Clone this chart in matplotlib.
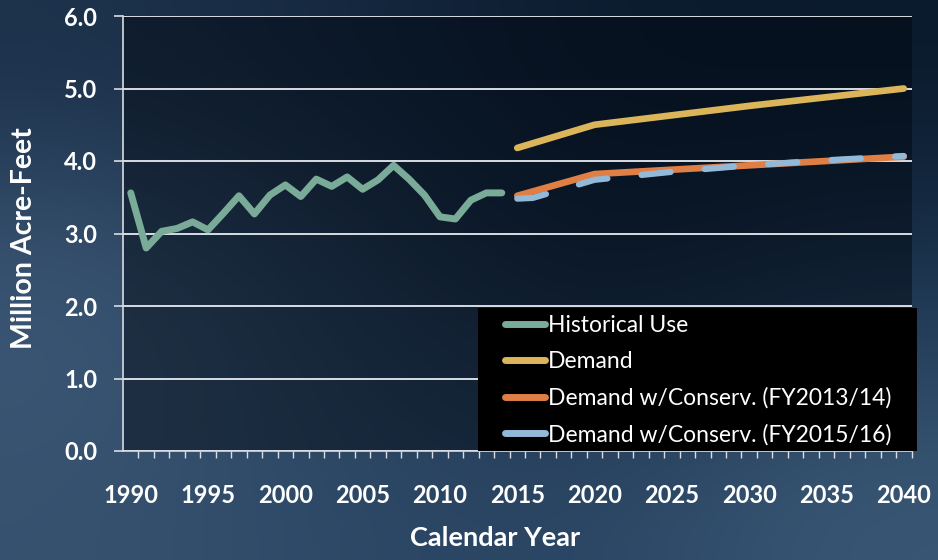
import numpy as np
import matplotlib
matplotlib.use("Agg")
import matplotlib.pyplot as plt
from matplotlib.ticker import MultipleLocator, FixedLocator, FormatStrFormatter
from matplotlib.colors import to_rgb
from matplotlib.patches import Rectangle
from matplotlib.lines import Line2D

plt.rcParams['font.family'] = ['Lato', 'DejaVu Sans']

# ---- data ----
hist_years = list(range(1990, 2015))
hist_use = [3.56, 2.80, 3.03, 3.07, 3.16, 3.05, 3.28, 3.52, 3.27, 3.53,
            3.67, 3.51, 3.75, 3.65, 3.78, 3.61, 3.74, 3.94, 3.75, 3.53,
            3.23, 3.20, 3.46, 3.56, 3.56]

demand_years = [2015, 2020, 2025, 2030, 2035, 2040]
demand = [4.18, 4.50, 4.63, 4.76, 4.88, 5.00]

cons1314_years = [2015, 2020, 2025, 2030, 2035, 2040]
cons1314 = [3.52, 3.82, 3.88, 3.94, 4.00, 4.06]

cons1516_years = [2015, 2016, 2020, 2025, 2030, 2035, 2040]
cons1516 = [3.48, 3.49, 3.74, 3.85, 3.94, 4.01, 4.07]

labels = ["Historical Use", "Demand", "Demand w/Conserv. (FY2013/14)",
          "Demand w/Conserv. (FY2015/16)"]
colors = ["#7aab98", "#dcb55a", "#e07f45", "#93b9d9"]

# ---- figure ----
W, H = 938, 560
fig = plt.figure(figsize=(W / 100, H / 100), dpi=100)

# background gradient
bg = fig.add_axes([0, 0, 1, 1], zorder=-10)
grid_cols = [
    ["#1c314a", "#14273e", "#0c1c2f", "#0a1a2c"],
    ["#3e5a79", "#263f5a", "#102238", "#1c3550"],
    ["#36526f", "#2d4866", "#2a4563", "#3a5876"],
]
arr = np.array([[to_rgb(c) for c in row] for row in grid_cols])
bg.imshow(arr, aspect='auto', interpolation='bicubic', extent=[0, 1, 0, 1])
bg.set_axis_off()

L, R = 123 / W, 911.5 / W
B, T = 1 - 451 / H, 1 - 16 / H
ax = fig.add_axes([L, B, R - L, T - B], zorder=1)
ax.set_facecolor((0.0, 0.02, 0.05, 0.45))

ax.plot(hist_years, hist_use, color=colors[0], lw=5, solid_capstyle='round',
        solid_joinstyle='round', zorder=3)
ax.plot(demand_years, demand, color=colors[1], lw=4.8, solid_capstyle='round',
        solid_joinstyle='round', zorder=3)
ax.plot(cons1314_years, cons1314, color=colors[2], lw=4.8, solid_capstyle='round',
        solid_joinstyle='round', zorder=3)
ax.plot(cons1516_years, cons1516, color=colors[3], lw=4.4, dashes=(4.8, 5.6),
        dash_capstyle='round', dash_joinstyle='round', zorder=4)

ax.set_xlim(1989.5, 2040.5)
ax.set_ylim(0, 6)

ax.yaxis.set_major_locator(MultipleLocator(1))
ax.yaxis.set_major_formatter(FormatStrFormatter('%.1f'))
ax.xaxis.set_major_locator(MultipleLocator(5))
ax.xaxis.set_minor_locator(FixedLocator(np.arange(1990.5, 2041, 1.0)))

gridc = "#d8dde3"
ax.grid(axis='y', color=gridc, lw=1.4, zorder=1)
ax.set_axisbelow(True)
for s in ['top', 'right']:
    ax.spines[s].set_visible(False)
for s in ['left', 'bottom']:
    ax.spines[s].set_color(gridc)
    ax.spines[s].set_linewidth(1.2)

ax.tick_params(axis='y', which='major', direction='out', length=6.5, width=1.2,
               color=gridc, labelcolor='white', labelsize=17, pad=12)
for t in ax.get_yticklabels():
    t.set_fontweight('bold')
ax.tick_params(axis='x', which='major', length=0, labelcolor='white',
               labelsize=17, pad=24)
ax.tick_params(axis='x', which='minor', direction='out', length=5, width=1.0,
               color=gridc)
for t in ax.get_xticklabels():
    t.set_fontweight('bold')

fig.text(24 / W, 1 - 238 / H, "Million Acre-Feet", rotation=90, color='white',
         fontsize=20.5, fontweight='bold', ha='center', va='center')
fig.text(495 / W, 1 - 538 / H, "Calendar Year", color='white',
         fontsize=19.5, fontweight='bold', ha='center', va='center')

# legend box
box = Rectangle((478 / W, 1 - 451 / H), (917 - 478) / W, (451 - 308) / H,
                transform=fig.transFigure, facecolor='black', edgecolor='none',
                zorder=9, clip_on=False)
ax.add_artist(box)
handles = [Line2D([], [], color=c, lw=5, solid_capstyle='round') for c in colors]
leg = ax.legend(handles, labels, loc='center left',
                bbox_to_anchor=(505 / W, 1 - 380 / H),
                bbox_transform=fig.transFigure, borderaxespad=0, borderpad=0,
                frameon=False, fontsize=16.5, labelcolor='white',
                handlelength=1.75, handletextpad=0.13, labelspacing=0.66)
leg.set_zorder(10)

fig.savefig("out.png", dpi=100)
